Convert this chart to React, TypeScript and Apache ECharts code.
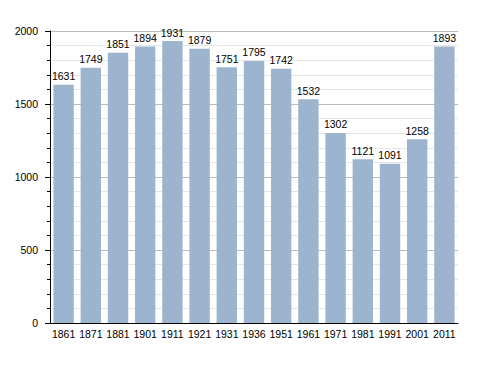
import React, { useEffect, useRef } from "react";
import * as echarts from "echarts";

const years = ["1861", "1871", "1881", "1901", "1911", "1921", "1931", "1936", "1951", "1961", "1971", "1981", "1991", "2001", "2011"];
const population = [1631, 1749, 1851, 1894, 1931, 1879, 1751, 1795, 1742, 1532, 1302, 1121, 1091, 1258, 1893];
const yTicks = [0, 500, 1000, 1500, 2000];

export default function App() {
  const ref = useRef<HTMLDivElement>(null);
  useEffect(() => {
    const chart = echarts.init(ref.current!, null, { renderer: "svg" });
    const font = "'Liberation Sans', Arial, sans-serif";
    chart.setOption({
      animation: false,
      grid: { left: 50, right: 30, top: 31, bottom: 50, containLabel: false },
      xAxis: {
        type: "category",
        data: years,
        axisLine: { lineStyle: { color: "#000", width: 1 } },
        axisTick: { show: false },
        axisLabel: { color: "#000", fontSize: 10.5, fontFamily: font, margin: 5, interval: 0 },
      },
      yAxis: {
        type: "value",
        min: yTicks[0],
        max: yTicks[yTicks.length - 1],
        interval: 500,
        axisLine: { show: true, lineStyle: { color: "#000", width: 1 } },
        axisTick: { show: true, length: 5, lineStyle: { color: "#000" } },
        minorTick: { show: true, splitNumber: 5, length: 3, lineStyle: { color: "#000" } },
        splitLine: { show: true, lineStyle: { color: "#bbbbbb", width: 1 } },
        minorSplitLine: { show: true, lineStyle: { color: "#e6e6e6", width: 1 } },
        axisLabel: {
          color: "#000",
          fontSize: 10.5,
          fontFamily: font,
          margin: 12,
          formatter: (v: number) => String(v),
        },
      },
      series: [
        {
          type: "bar",
          data: population,
          barCategoryGap: "25%",
          itemStyle: { color: "#9db4cf" },
          label: {
            show: true,
            position: "top",
            distance: 3,
            color: "#000",
            fontSize: 10.5,
            fontFamily: font,
          },
        },
      ],
    });
    return () => chart.dispose();
  }, []);
  return <div ref={ref} style={{ width: 488, height: 373, position: "absolute", left: 0, top: 0 }} />;
}
